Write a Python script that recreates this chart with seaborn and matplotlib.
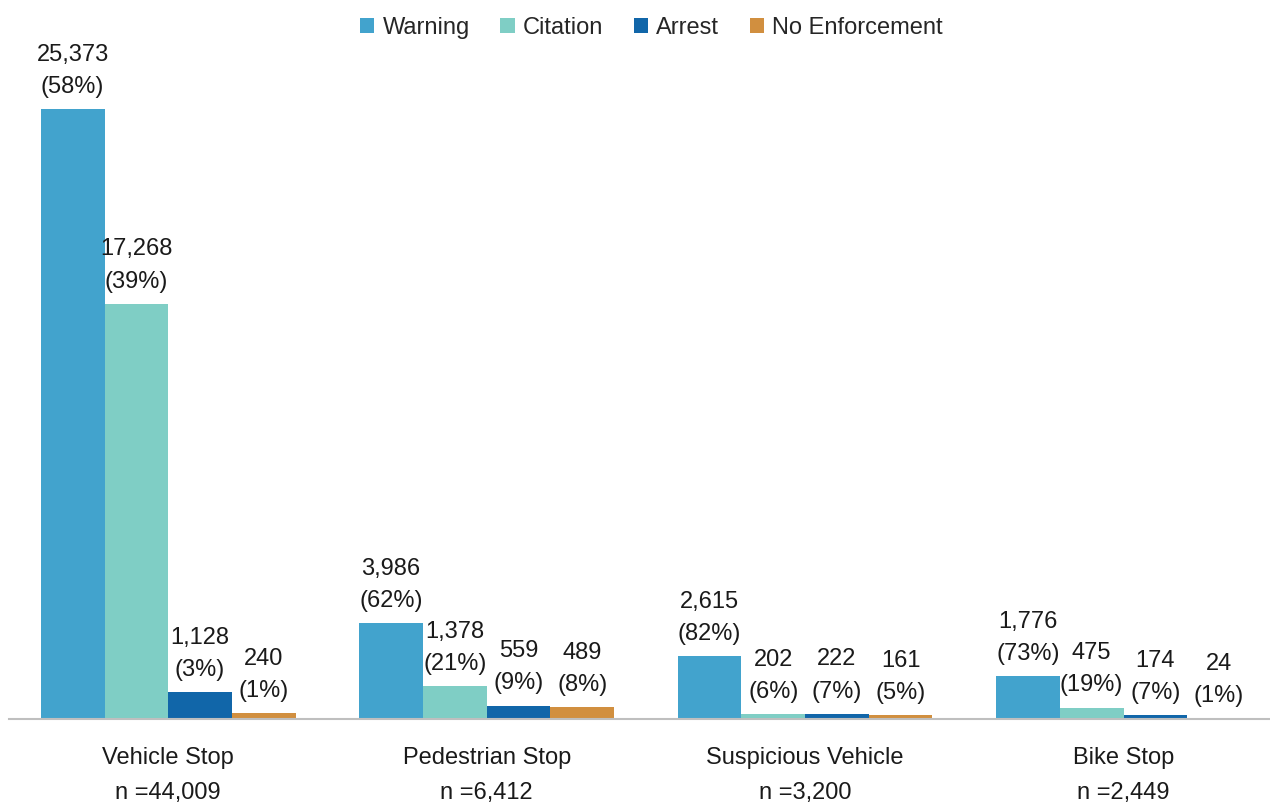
import pandas as pd
import matplotlib.pyplot as plt
import seaborn as sns
from matplotlib.patches import Patch

# data
stop_types = ['Vehicle Stop', 'Pedestrian Stop', 'Suspicious Vehicle', 'Bike Stop']
stop_totals = ['44,009', '6,412', '3,200', '2,449']
outcomes = ['Warning', 'Citation', 'Arrest', 'No Enforcement']

warning = [25373, 3986, 2615, 1776]
citation = [17268, 1378, 202, 475]
arrest = [1128, 559, 222, 174]
no_enforcement = [240, 489, 161, 24]

warning_pct = [58, 62, 82, 73]
citation_pct = [39, 21, 6, 19]
arrest_pct = [3, 9, 7, 7]
no_enforcement_pct = [1, 8, 5, 1]

colors = ['#42A3CD', '#7FCEC5', '#1166A9', '#D18F3F']

series = [warning, citation, arrest, no_enforcement]
pcts = [warning_pct, citation_pct, arrest_pct, no_enforcement_pct]

rows = []
for outcome, vals in zip(outcomes, series):
    for stop, v in zip(stop_types, vals):
        rows.append({'stop': stop, 'outcome': outcome, 'count': v})
df = pd.DataFrame(rows)

sns.set_theme(style="white")
plt.rcParams['font.family'] = ['Liberation Sans Narrow', 'Liberation Sans', 'DejaVu Sans']

fig = plt.figure(figsize=(12.7, 8.02), dpi=100)
ax = fig.add_axes([9 / 1270, 83 / 802, 1 - 9 / 1270, 719 / 802])

sns.barplot(data=df, x='stop', y='count', hue='outcome', hue_order=outcomes,
            order=stop_types, palette=colors, width=0.8, saturation=1,
            edgecolor='none', linewidth=0, legend=False, ax=ax)

# value labels above each bar
for cont, vals, pc in zip(ax.containers, series, pcts):
    for bar, v, p in zip(cont, vals, pc):
        ax.annotate(f"{v:,}\n({p}%)",
                    xy=(bar.get_x() + bar.get_width() / 2, bar.get_height()),
                    xytext=(0, 8), textcoords='offset points',
                    ha='center', va='bottom', fontsize=17, color='#1a1a1a',
                    linespacing=1.6)

ax.set_ylim(0, 29900)
ax.set_xlim(-0.5, 3.46)
ax.set_xticks(range(len(stop_types)))
ax.set_xticklabels([f"{s}\nn ={n}" for s, n in zip(stop_types, stop_totals)],
                   fontsize=17, color='#1a1a1a', linespacing=1.75)
ax.tick_params(axis='x', length=0, pad=20)
ax.set_yticks([])
ax.set_xlabel('')
ax.set_ylabel('')
for side in ['top', 'right', 'left']:
    ax.spines[side].set_visible(False)
ax.spines['bottom'].set_color('#BFBFBF')
ax.spines['bottom'].set_linewidth(1.5)

handles = [Patch(facecolor=c, edgecolor='none', label=o) for c, o in zip(colors, outcomes)]
fig.legend(handles=handles, loc='upper center', bbox_to_anchor=(0.513, 1.005), ncol=4,
           frameon=False, fontsize=17, handlelength=0.6, handleheight=0.6,
           handletextpad=0.35, columnspacing=1.3)

fig.savefig('out.png', dpi=100)
